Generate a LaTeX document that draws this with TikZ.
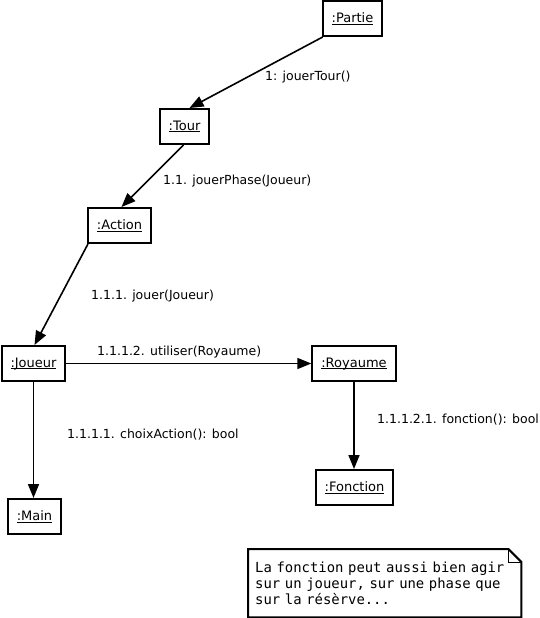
\documentclass[tikz,border=0pt]{standalone}
\usepackage{fontspec}
\setmainfont{DejaVu Sans}
\newfontfamily\notefont{DejaVu Sans Mono}
\usepackage{tikz}
\usetikzlibrary{
  arrows.meta,
  positioning
}
\tikzset{>={Triangle[length=14pt,width=11pt]}}
\tikzset{obj/.style={draw, line width=2pt, inner xsep=9pt, minimum height=35pt,
    font=\fontsize{13}{15}\selectfont}}
\tikzset{msg/.style={->, line width=1.6pt}}
\tikzset{lbl/.style={anchor=west, inner sep=0pt, font=\fontsize{12.5}{15}\selectfont}}
\newcommand{\objname}[1]{\underline{\raisebox{0pt}[\height][0pt]{#1}}}

\begin{document}
\begin{tikzpicture}[x=1pt,y=-1pt]
  \useasboundingbox (0,0) rectangle (540,618);
  % objets
  \node[obj] (partie) at (352.5,18.5) {\objname{:Partie}};
  \node[obj] (tour) at (184.5,126.5) {\objname{:Tour}};
  \node[obj] (action) at (119.5,225.5) {\objname{:Action}};
  \node[obj] (joueur) at (33.5,363.5) {\objname{:Joueur}};
  \node[obj] (royaume) at (354,363.5) {\objname{:Royaume}};
  \node[obj] (fonction) at (354.5,487.5) {\objname{:Fonction}};
  \node[obj] (main) at (34.5,516.5) {\objname{:Main}};
  % messages
  \draw[msg] ([xshift=1pt]partie.south west) -- ([xshift=5pt]tour.north);
  \draw[msg] ([xshift=-1pt]tour.south) -- ([xshift=2pt]action.north);
  \draw[msg] ([xshift=1pt]action.south west) -- ([xshift=1pt]joueur.north);
  \draw[msg] (joueur.east) -- (royaume.west);
  \draw[msg] (joueur.south) -- (joueur.south |- main.north);
  \draw[msg] (royaume.south) -- (royaume.south |- fonction.north);
  \node[lbl] (m1) at (265,77) {1: jouerTour()};
  \node[lbl] (m11) at (163,181.5) {1.1. jouerPhase(Joueur)};
  \node[lbl] (m111) at (91,296) {1.1.1. jouer(Joueur)};
  \node[lbl] (m1112) at (97,352) {1.1.1.2. utiliser(Royaume)};
  \node[lbl] (m1111) at (67,435) {1.1.1.1. choixAction(): bool};
  \node[lbl] (m11121) at (377,420) {1.1.1.2.1. fonction(): bool};
  % note
  \node[anchor=north west, minimum width=273pt, minimum height=68pt, text width=259pt,
    inner xsep=7pt, align=left, font=\notefont\fontsize{13.9}{16}\selectfont]
    (note) at (248,549) {La fonction peut aussi bien agir\\sur un joueur, sur une phase que\\sur la résèrve...};
  \draw[line width=2pt] (note.north west) -- ([xshift=-13pt]note.north east)
    -- ([yshift=-13pt]note.north east) -- (note.south east) -- (note.south west) -- cycle;
  \draw[line width=0.8pt] ([xshift=-13pt]note.north east) |- ([yshift=-13pt]note.north east);
\end{tikzpicture}
\end{document}
